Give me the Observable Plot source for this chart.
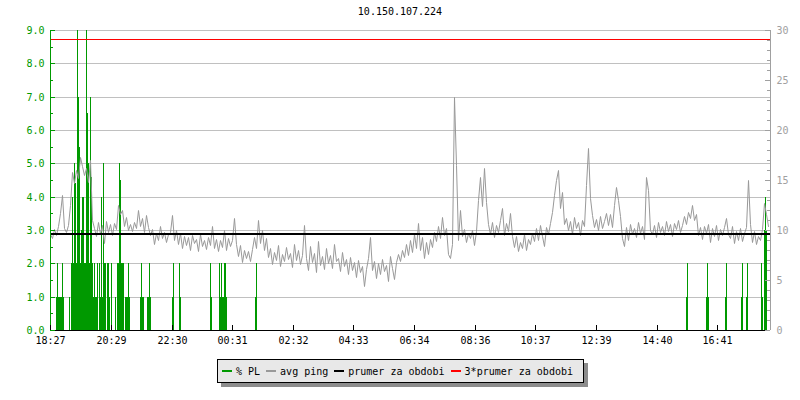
<!DOCTYPE html>
<html><head><meta charset="utf-8">
<script src="https://cdn.jsdelivr.net/npm/d3@7"></script>
<script src="https://cdn.jsdelivr.net/npm/@observablehq/plot@0.6"></script>
<style>
body{margin:0;background:#fff;width:800px;height:400px;position:relative;overflow:hidden;font-family:"DejaVu Sans Mono",monospace;font-size:10px;color:#000;}
#title{position:absolute;left:0;top:5px;width:800px;text-align:center;line-height:14px;}
#chart{position:absolute;left:0;top:20px;}
#legend{position:absolute;left:217px;top:359px;height:22px;width:361px;background:#e8e8e8;border:1px solid #000;box-shadow:4px 4px 0 #8c8c8c;display:flex;align-items:center;padding-left:4px;box-sizing:content-box;}
.item{display:flex;align-items:center;margin-right:6px;white-space:pre;}
.sw{width:10px;height:2px;margin-right:4px;}
</style></head>
<body>
<div id="title"></div>
<div id="chart"></div>
<div id="legend"></div>
<script>
const chartTitle = "10.150.107.224";
const xTickLabels = ["18:27","20:29","22:30","00:31","02:32","04:33","06:34","08:36","10:37","12:39","14:40","16:41"];
const plTicks = [0,1,2,3,4,5,6,7,8,9];
const plMinorTicks = [0.5,1.5,2.5,3.5,4.5,5.5,6.5,7.5,8.5];
const pingTicks = [0,5,10,15,20,25,30];
const pingMinorTicks = [1,2,3,4,6,7,8,9,11,12,13,14,16,17,18,19,21,22,23,24,26,27,28,29];
const plMax = 9, pingMax = 30;
const spanMinutes = 1440;
const sampleStep = 4; // minutes between avg ping samples
const meanPing = 9.69;
const legendLabels = ["% PL","avg ping","prumer za obdobi","3*prumer za obdobi"];

// avg ping (ms), one sample every 4 minutes starting 18:27
const pingValues = [
 9.6,9.2,10.1,9.5,10.4,11.7,13.5,10.2,9.8,10.5,12.5,15.8,14.7,16.0,15.2,17.3,16.4,15.5,16.2,14.8,
 17.0,11.0,10.2,9.4,10.8,9.6,10.5,8.7,10.9,9.8,10.6,9.5,10.7,10.1,12.5,11.6,12.0,10.4,11.3,10.0,
 10.6,9.9,10.8,10.2,12.0,10.4,11.2,9.8,11.5,10.3,9.5,10.1,8.6,9.7,9.0,10.4,9.2,9.8,8.8,9.6,
 9.8,11.5,9.0,10.0,8.6,9.7,8.2,9.4,8.5,9.3,8.0,9.5,8.7,9.1,7.9,9.6,8.4,9.0,8.1,9.3,
 8.5,10.4,8.2,9.1,7.9,9.0,8.3,10.0,8.0,9.2,8.4,9.0,11.2,8.6,7.4,8.5,6.8,8.0,7.2,7.9,
 6.9,8.1,9.3,8.2,11.0,8.7,10.0,8.0,9.2,7.3,8.2,6.6,7.8,7.0,8.5,6.4,7.6,6.9,8.3,7.1,
 7.7,6.3,8.6,7.0,8.0,6.6,7.5,10.5,7.2,6.0,8.4,6.8,7.7,5.8,8.9,6.5,7.4,6.1,8.2,6.7,
 7.5,6.2,8.6,6.9,7.2,5.9,7.8,6.4,7.1,5.6,7.3,6.0,6.8,5.3,7.0,5.8,6.4,4.4,6.1,7.2,
 9.3,6.0,6.9,5.2,6.7,5.6,7.1,5.9,6.5,4.9,7.4,6.2,5.1,6.8,7.6,6.9,8.0,7.3,8.6,7.5,
 9.0,7.8,9.6,8.2,10.7,8.0,9.3,7.2,8.8,7.6,9.1,8.3,9.8,8.9,10.4,9.2,11.3,9.5,10.2,7.6,
 7.2,8.6,23.3,16.5,9.0,12.0,9.4,10.1,8.8,9.7,9.2,10.0,8.5,9.9,13.0,15.3,12.4,16.2,12.8,10.6,
 9.6,10.8,9.3,10.5,9.8,11.0,12.2,9.5,10.7,9.9,11.7,9.4,8.3,9.4,7.9,8.8,8.2,9.6,8.0,9.1,
 8.6,9.7,8.9,10.2,9.0,10.5,9.4,8.4,10.3,9.6,10.7,11.8,13.5,15.0,16.0,12.2,13.8,10.6,11.2,10.0,
 10.9,9.6,11.3,10.2,10.8,9.5,11.0,10.4,14.5,18.2,13.2,11.5,10.3,11.1,10.0,11.4,10.2,10.9,11.7,10.5,
 11.6,10.3,12.5,14.3,13.0,11.4,9.2,8.4,10.3,9.0,10.6,9.6,10.2,9.3,10.8,9.7,10.4,9.1,15.3,14.0,
 10.0,9.6,10.5,9.3,10.8,9.8,10.4,9.5,10.9,9.9,10.6,9.4,10.7,10.1,11.0,9.8,10.5,11.4,10.6,11.8,
 11.2,12.5,11.0,11.6,9.5,10.3,9.1,10.4,9.7,10.6,8.8,10.2,9.4,10.5,9.0,10.1,9.5,10.3,11.2,9.6,
 9.2,10.4,8.7,9.9,9.0,10.2,8.9,9.7,10.3,15.0,10.6,8.8,9.9,8.6,9.4,9.0,10.1,12.7,11.6,10.4
];

// packet loss (%): minutes after 18:27 and value for each 2-minute column
const plTimes = [12,14,16,18,20,22,24,26,38,
 42,44,46,48,50,52,54,56,58,60,62,64,66,68,70,72,74,76,78,80,82,84,
 86,88,90,92,94,98,100,102,104,106,108,110,114,116,118,122,130,
 134,136,138,140,142,144,146,150,152,154,156,158,
 180,182,184,186,194,196,198,200,244,246,258,260,320,322,
 338,340,342,344,346,348,350,352,410,412,
 1272,1274,1312,1314,1316,1350,1352,1382,1384,1392,1394,1422,1424,1428,1430,1432];
const plValues = [1,2,1,1,1,1,2,1,1,
 2,4,2,5,4.4,2,9,7,5.5,2,3,4,4,2,2,9,6.5,5,2,7,4.6,2,
 1,2,1,1,2,2,1,4,1,5,2,2,2,2,1,2,1,
 2,2,5,4.5,2,2,2,1,1,1,2,1,
 1,2,1,1,1,1,2,1,1,2,2,1,2,1,
 2,1,2,1,1,2,2,1,1,2,
 1,2,1,2,1,1,2,1,2,1,2,2,1,3,4,3];

const green = "#009900", grayLine = "#999999", grid = "#c0c0c0";
const legendColors = [green, grayLine, "#000000", "#ff0000"];

const msPerPL = pingMax / plMax;
const pingData = pingValues.map((v, i) => ({t: i * sampleStep, v}));
const plData = plTimes.map((t, i) => ({t, v: plValues[i]}));
const toMin = s => { const [h, m] = s.split(":").map(Number); return h * 60 + m; };
const startMin = toMin(xTickLabels[0]);
const tickMin = xTickLabels.map(s => (toMin(s) - startMin + 1440) % 1440);

document.getElementById("title").textContent = chartTitle;

const chart = Plot.plot({
  width: 800, height: 330,
  marginTop: 10, marginBottom: 20, marginLeft: 50, marginRight: 30,
  x: {domain: [0, spanMinutes], axis: null, round: true},
  y: {domain: [0, pingMax], axis: null, round: true},
  style: {fontFamily: '"DejaVu Sans Mono", monospace', fontSize: "10px", background: "white", overflow: "visible"},
  marks: [
    Plot.ruleY(plTicks.slice(1), {y: d => d * msPerPL, stroke: grid}),
    Plot.rect(plData, {x1: "t", x2: d => d.t + 2, y1: 0, y2: d => d.v * msPerPL, fill: green}),
    Plot.line(pingData, {x: "t", y: "v", stroke: grayLine, strokeWidth: 1}),
    Plot.ruleY([meanPing * 3], {stroke: "#ff0000"}),
    Plot.ruleY([meanPing], {stroke: "#000", strokeWidth: 2, dy: 0.5}),
    Plot.ruleX([0], {stroke: green}),
    Plot.ruleX([spanMinutes], {stroke: "#a0a0a0"}),
    Plot.ruleY([0], {stroke: "#000"}),
    Plot.ruleY(plTicks, {y: d => d * msPerPL, stroke: green, insetRight: 715}),
    Plot.ruleY(plMinorTicks, {y: d => d * msPerPL, stroke: green, insetRight: 717}),
    Plot.ruleY(pingTicks, {y: d => d, stroke: "#a0a0a0", insetLeft: 715}),
    Plot.ruleY(pingMinorTicks, {y: d => d, stroke: "#a0a0a0", insetLeft: 717}),
    Plot.ruleX(tickMin, {x: d => d, stroke: "#000", insetTop: 295}),
    Plot.text(plTicks, {y: d => d * msPerPL, text: d => d.toFixed(1), frameAnchor: "left", dx: -6, textAnchor: "end", fill: green}),
    Plot.text(pingTicks, {y: d => d, text: d => String(d), frameAnchor: "right", dx: 6, textAnchor: "start", fill: "#a0a0a0"}),
    Plot.text(tickMin, {x: d => d, text: (d, i) => xTickLabels[i], frameAnchor: "bottom", dy: 13, fill: "#000"})
  ]
});
document.getElementById("chart").appendChild(chart);

const legend = document.getElementById("legend");
legendLabels.forEach((lab, i) => {
  const it = document.createElement("div"); it.className = "item";
  const sw = document.createElement("div"); sw.className = "sw"; sw.style.background = legendColors[i];
  const tx = document.createElement("span"); tx.textContent = lab;
  it.appendChild(sw); it.appendChild(tx); legend.appendChild(it);
});
</script>
</body></html>
